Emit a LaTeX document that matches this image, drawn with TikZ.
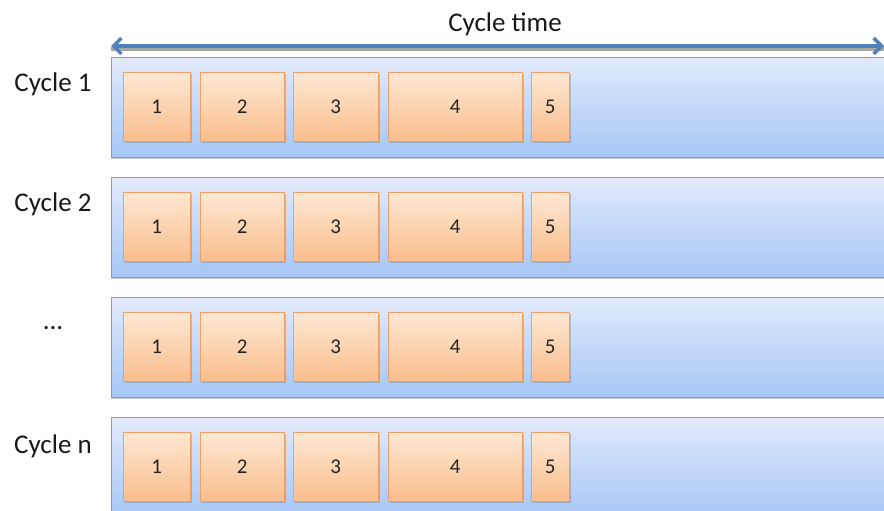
\documentclass[tikz,border=0pt]{standalone}
\usepackage{fontspec}
\setmainfont{Carlito}
\usetikzlibrary{shadows,arrows.meta}
\definecolor{barTop}{RGB}{226,234,251}
\definecolor{barBot}{RGB}{166,198,246}
\definecolor{barLine}{RGB}{128,156,194}
\definecolor{boxTop}{RGB}{253,232,212}
\definecolor{boxBot}{RGB}{250,190,140}
\definecolor{boxLine}{RGB}{240,160,100}
\definecolor{arrowBlue}{RGB}{79,129,189}
\tikzset{
  x=1pt, y=-1pt,
  bar/.style={draw=barLine, line width=0.8pt, top color=barTop, bottom color=barBot,
    anchor=north west, inner sep=0pt, minimum height=100pt,
    drop shadow={shadow xshift=0pt, shadow yshift=-1.5pt, opacity=0.35, fill=black!60}},
  task/.style={draw=boxLine, line width=0.6pt, top color=boxTop, bottom color=boxBot,
    anchor=north west, inner sep=0pt, minimum height=69pt, font=\fontsize{21}{24}\selectfont,
    text=black!85, drop shadow={shadow xshift=1.2pt, shadow yshift=-1.5pt, opacity=0.3, fill=black!60}},
  rowlabel/.style={font=\fontsize{27}{30}\selectfont, text=black!90},
}
\begin{document}
\begin{tikzpicture}
\useasboundingbox (0,0) rectangle (884,511);
% time axis
\node[rowlabel] (ctime) at (505,24) {Cycle time};
\coordinate (tl) at (111,46);
\coordinate (tr) at (884,46);
\draw[black!35, line width=3.5pt] ([yshift=-3pt]tl) -- ([yshift=-3pt]tr);
\draw[arrowBlue, line width=3.4pt, {Straight Barb[length=8pt,width=16pt]}-{Straight Barb[length=8pt,width=16pt]}] (tl) -- (tr);
% cycles
\foreach \r/\lab/\ly [count=\i] in {57/Cycle 1/84, 177/Cycle 2/204, 297/{...}/328, 417/Cycle n/446}{
  \node[bar, minimum width=780pt] (bar\i) at (111,\r) {};
  \node[rowlabel] (lab\i) at (53,\ly) {\lab};
  \pgfmathsetmacro\ty{\r+15}
  \node[task, minimum width=67pt] (t\i a) at (123,\ty) {1};
  \node[task, minimum width=84pt] (t\i b) at (200,\ty) {2};
  \node[task, minimum width=85pt] (t\i c) at (293,\ty) {3};
  \node[task, minimum width=134pt] (t\i d) at (388,\ty) {4};
  \node[task, minimum width=38pt] (t\i e) at (531,\ty) {5};
}
\end{tikzpicture}
\end{document}
